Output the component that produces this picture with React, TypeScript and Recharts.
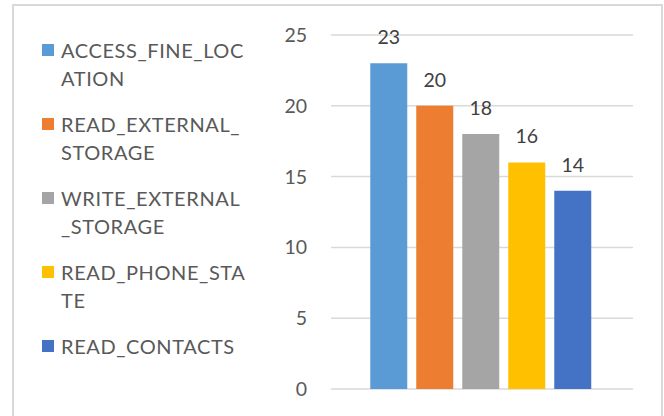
import { BarChart, Bar, XAxis, YAxis, CartesianGrid, Legend, LabelList } from 'recharts';

const permissions = [
  'ACCESS_FINE_LOCATION',
  'READ_EXTERNAL_STORAGE',
  'WRITE_EXTERNAL_STORAGE',
  'READ_PHONE_STATE',
  'READ_CONTACTS',
];
const counts = [23, 20, 18, 16, 14];
const colors = ['#5b9bd5', '#ed7d31', '#a5a5a5', '#ffc000', '#4472c4'];
const yTicks = [0, 5, 10, 15, 20, 25];
// where the legend text wraps in the original (chars on the first line)
const wrapAt = [15, 14, 14, 14, 0];

const row: Record<string, string | number> = { name: '' };
permissions.forEach((p, i) => {
  row[p] = counts[i];
});
const data = [row];

const font = 'Lato, "Open Sans", sans-serif';
const fontSize = 19.5;

const splitLabel = (s: string, n: number) => (n > 0 && n < s.length ? [s.slice(0, n), s.slice(n)] : [s]);

const renderLegend = () => (
  <div style={{ width: 230, fontFamily: font }}>
    {permissions.map((p, i) => (
      <div key={p} style={{ display: 'flex', alignItems: 'flex-start', marginBottom: 18 }}>
        <div style={{ width: 12, height: 12, background: colors[i], marginTop: 8, flexShrink: 0 }} />
        <div
          style={{
            marginLeft: 7,
            fontSize: 20,
            letterSpacing: 0.6,
            lineHeight: '28px',
            color: '#595959',
            whiteSpace: 'nowrap',
          }}
        >
          {splitLabel(p, wrapAt[i]).map((line) => (
            <div key={line}>{line}</div>
          ))}
        </div>
      </div>
    ))}
  </div>
);

export default function App() {
  return (
    <div style={{ position: 'fixed', left: 0, top: 0, width: 664, height: 416, overflow: 'hidden', background: '#fff' }}>
      <div
        style={{
          position: 'absolute',
          left: 12,
          top: 4,
          width: 651,
          height: 440,
          border: '2px solid #d9d9d9',
          boxSizing: 'border-box',
        }}
      />
      <div style={{ position: 'absolute', left: 0, top: 0 }}>
        <BarChart
          width={664}
          height={416}
          data={data}
          margin={{ top: 35, right: 31, bottom: 27, left: 50 }}
          barCategoryGap="13%"
          barGap={9}
        >
          <CartesianGrid vertical={false} stroke="#d9d9d9" strokeWidth={1.5} />
          <XAxis dataKey="name" hide />
          <YAxis
            domain={[0, 25]}
            ticks={yTicks}
            width={51}
            axisLine={false}
            tickLine={false}
            tickSize={0}
            tickMargin={24}
            tick={{ fill: '#595959', fontSize, fontFamily: font }}
          />
          <Legend
            layout="vertical"
            align="left"
            verticalAlign="top"
            content={renderLegend}
            wrapperStyle={{ left: 42, top: 36, width: 230 }}
          />
          {permissions.map((p, i) => (
            <Bar key={p} dataKey={p} fill={colors[i]} isAnimationActive={false}>
              <LabelList
                dataKey={p}
                position="top"
                offset={19}
                style={{ fill: '#404040', fontSize, fontFamily: font }}
              />
            </Bar>
          ))}
        </BarChart>
      </div>
    </div>
  );
}
